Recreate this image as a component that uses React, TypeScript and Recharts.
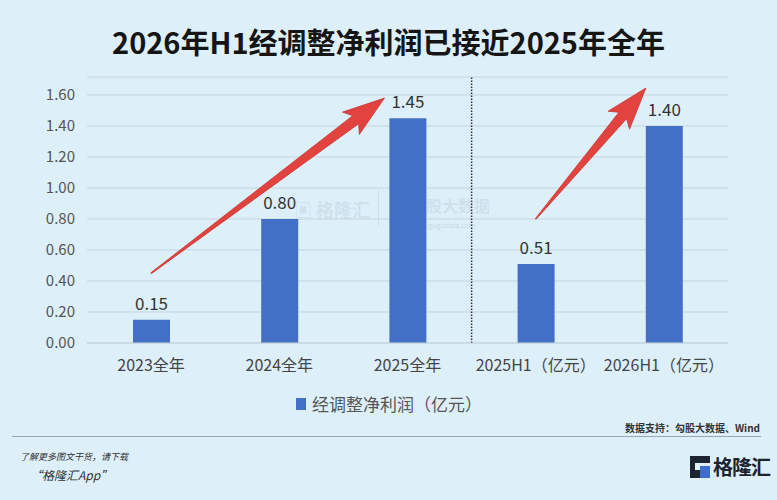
import { useEffect } from 'react';
import {
  BarChart, Bar, XAxis, YAxis, CartesianGrid, LabelList, ReferenceLine
} from 'recharts';

const categories = ['2023全年', '2024全年', '2025全年', '2025H1（亿元）', '2026H1（亿元）'];
const profit = [0.15, 0.8, 1.45, 0.51, 1.4];
const yTicks = [0, 0.2, 0.4, 0.6, 0.8, 1.0, 1.2, 1.4, 1.6];

// red trend arrows: tail / tip as [category, value]
const arrowTails: [string, number][] = [['2023全年', 0.45], ['2025H1（亿元）', 0.8]];
const arrowTips: [string, number][] = [['2025全年', 1.58], ['2026H1（亿元）', 1.645]];
const arrowNudge = [-23, -18];

const BG = '#DDF0FA';
const BAR_COLOR = '#4270C6';
const FONT = '"Noto Sans CJK SC", "Noto Sans", sans-serif';

const data = categories.map((name, i) => ({ name, value: profit[i] }));

function Arrow(props: any, nudge: number) {
  const { x1, y1, y2 } = props;
  const x2 = props.x2 + nudge;
  const len = Math.hypot(x2 - x1, y2 - y1);
  const ux = (x2 - x1) / len;
  const uy = (y2 - y1) / len;
  const nx = -uy;
  const ny = ux;
  const H = 36;
  const bx = x2 - ux * H;
  const by = y2 - uy * H;
  const barbX = x2 - ux * (H + 6);
  const barbY = y2 - uy * (H + 6);
  const pts = [
    [x1 + nx * 0.5, y1 + ny * 0.5],
    [bx + nx * 5, by + ny * 5],
    [barbX + nx * 14, barbY + ny * 14],
    [x2, y2],
    [barbX - nx * 14, barbY - ny * 14],
    [bx - nx * 5, by - ny * 5],
    [x1 - nx * 0.5, y1 - ny * 0.5],
  ];
  return (
    <polygon
      points={pts.map((p) => p.join(',')).join(' ')}
      fill="#E2433F"
      stroke="#C93632"
      strokeWidth={0.8}
    />
  );
}

export default function App() {
  useEffect(() => {
    document.body.style.margin = '0';
  }, []);

  return (
    <div style={{ position: 'relative', width: 777, height: 500, background: BG, fontFamily: FONT, overflow: 'hidden' }}>
      <div style={{ position: 'absolute', top: 21, left: 0, width: 777, textAlign: 'center', fontSize: 29, fontWeight: 700, color: '#151515', lineHeight: '40px' }}>
        2026年H1经调整净利润已接近2025年全年
      </div>

      {/* faint watermarks */}
      <div style={{ position: 'absolute', left: 294, top: 196, fontSize: 18, fontWeight: 700, color: 'rgba(140,150,160,0.18)' }}>▣ 格隆汇</div>
      <div style={{ position: 'absolute', left: 378, top: 190, width: 1, height: 36, background: 'rgba(140,150,160,0.2)' }} />
      <div style={{ position: 'absolute', left: 410, top: 193, fontSize: 16, fontWeight: 700, color: 'rgba(140,150,160,0.18)' }}>勾股大数据</div>
      <div style={{ position: 'absolute', left: 410, top: 220, fontSize: 7, color: 'rgba(140,150,160,0.3)' }}>www.gogudata.com</div>

      <div style={{ position: 'absolute', top: 0, left: 0 }}>
        <BarChart width={777} height={500} data={data} margin={{ top: 77, right: 49, left: 27, bottom: 127 }}>
          <CartesianGrid vertical={false} stroke="#C6D3DC" strokeWidth={1} />
          <XAxis
            dataKey="name"
            tickLine={false}
            axisLine={{ stroke: '#C6D3DC' }}
            tick={{ fontSize: 16, fill: '#444', fontFamily: FONT }}
            tickMargin={11}
            interval={0}
          />
          <YAxis
            width={60}
            domain={[0, 1.716]}
            ticks={yTicks}
            tickFormatter={(v: number) => v.toFixed(2)}
            axisLine={false}
            tickLine={false}
            tick={{ fontSize: 15, fill: '#555', fontFamily: FONT }}
            tickMargin={6}
          />
          <ReferenceLine
            x="2025全年"
            position="end"
            stroke="#333"
            strokeWidth={1.5}
            strokeDasharray="1.5 1.5"
            ifOverflow="visible"
          />
          <Bar dataKey="value" fill={BAR_COLOR} barSize={37} isAnimationActive={false}>
            <LabelList
              dataKey="value"
              position="top"
              offset={10}
              formatter={(v: any) => Number(v).toFixed(2)}
              style={{ fontSize: 17, fill: '#333', fontFamily: FONT }}
            />
          </Bar>
          {arrowTails.map((tail, i) => (
            <ReferenceLine
              key={i}
              segment={[{ x: tail[0], y: tail[1] }, { x: arrowTips[i][0], y: arrowTips[i][1] }]}
              ifOverflow="visible"
              shape={(p: any) => Arrow(p, arrowNudge[i])}
            />
          ))}
        </BarChart>
      </div>

      {/* legend */}
      <div style={{ position: 'absolute', left: 296, top: 391, display: 'flex', alignItems: 'center', fontSize: 17, color: '#555' }}>
        <span style={{ display: 'inline-block', width: 10, height: 12, background: BAR_COLOR, marginRight: 6 }} />
        经调整净利润（亿元）
      </div>

      <div style={{ position: 'absolute', right: 17, top: 420, fontSize: 10, fontWeight: 700, color: '#333' }}>
        数据支持：勾股大数据、Wind
      </div>
      <div style={{ position: 'absolute', left: 12, top: 436, width: 749, height: 1, background: '#9AA6AE' }} />

      <div style={{ position: 'absolute', left: 20, top: 450, fontSize: 9, fontStyle: 'italic', color: '#333' }}>
        了解更多图文干货，请下载
      </div>
      <div style={{ position: 'absolute', left: 30, top: 466, fontSize: 12, fontStyle: 'italic', color: '#333' }}>
        “格隆汇App”
      </div>

      {/* logo */}
      <div style={{ position: 'absolute', left: 690, top: 452, display: 'flex', alignItems: 'center' }}>
        <div style={{ position: 'relative', width: 20, height: 22, background: '#1C2430', marginRight: 3 }}>
          <div style={{ position: 'absolute', left: 5, top: 7, width: 15, height: 7, background: BG }} />
          <div style={{ position: 'absolute', left: 10, top: 10, width: 10, height: 12, background: '#3D6FD0' }} />
        </div>
        <span style={{ fontSize: 20, fontWeight: 700, color: '#1C2430', letterSpacing: -1 }}>格隆汇</span>
      </div>
    </div>
  );
}
